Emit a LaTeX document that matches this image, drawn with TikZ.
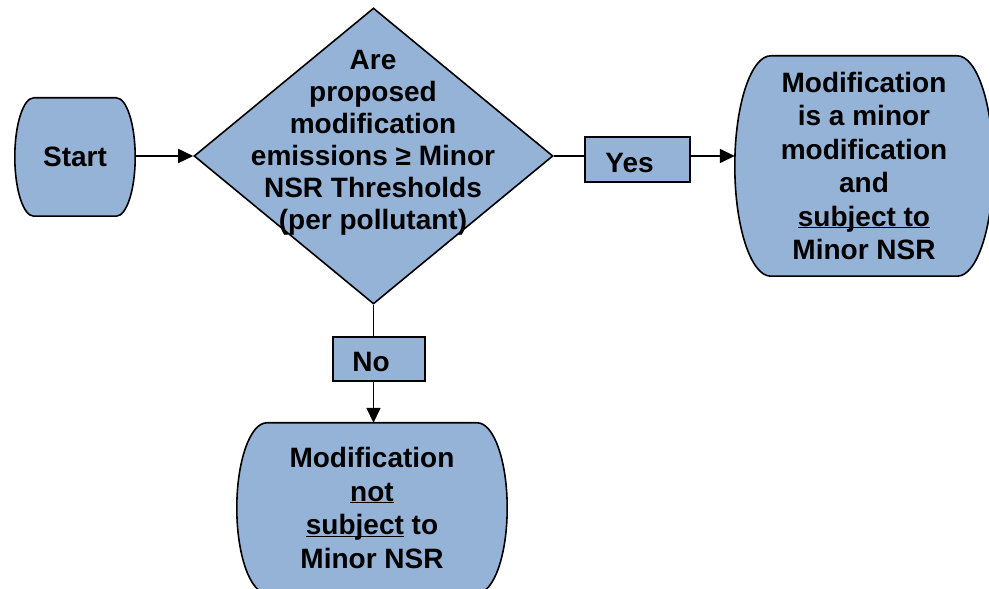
\documentclass[tikz,border=0pt]{standalone}
\usepackage{fontspec}
\setmainfont{Liberation Sans}
\usetikzlibrary{shapes,arrows.meta,calc,positioning,backgrounds}
\definecolor{boxblue}{HTML}{95B3D7}
\tikzstyle{arrow} = [line width=1.6pt, -{Triangle[length=15pt,width=14pt]}]
\tikzstyle{line} = [line width=1.6pt]
\tikzstyle{term} = [draw=none, inner sep=0pt, align=center, font=\bfseries\fontsize{28}{33.5}\selectfont]
\tikzstyle{tag} = [draw, fill=boxblue, line width=1.6pt, inner sep=0pt, text height=26pt, text depth=0pt, font=\bfseries\fontsize{28}{33.5}\selectfont]
\tikzstyle{decision} = [diamond, draw, fill=boxblue, line width=1.6pt, inner sep=0pt]
\newcommand{\ulin}[1]{\underline{\smash{#1}}}
% outline of a terminal box, sides are half ellipses
\newcommand{\termline}[2]{%
  \draw[line width=1.6pt, fill=boxblue] let \p1=(#1.north west), \p2=(#1.south east), \n1={(\y1-\y2)/2} in
    (\x1+#2pt,\y1) arc[start angle=90, end angle=270, x radius=#2pt, y radius=\n1]
    -- (\x2-#2pt,\y2) arc[start angle=-90, end angle=90, x radius=#2pt, y radius=\n1] -- cycle;}
\begin{document}
\begin{tikzpicture}[x=1pt,y=1pt]
\useasboundingbox (0,0) rectangle (989,589);

\node[term, minimum width=120pt, minimum height=118pt] (start) at (75,432) {Start};
\node[decision, minimum width=359pt, minimum height=296pt] (dec) at (373.5,433) {};
\node[align=center, font=\bfseries\fontsize{28}{32}\selectfont] (ques) at (373,446)
  {Are\\proposed\\modification\\emissions ≥ Minor\\NSR Thresholds\\(per pollutant)};
\node[tag, minimum width=105pt, minimum height=45pt] (yes) at (637.5,429.5) {Yes\kern16pt};
\node[tag, minimum width=92pt, minimum height=44pt] (no) at (379,230) {No\kern16pt};
\node[term, minimum width=258pt, minimum height=220pt] (minor) at (864,423)
  {Modification\\is a minor\\modification\\and\\\ulin{subject to}\\Minor NSR};
\node[term, minimum width=270pt, minimum height=170pt] (notsub) at (372,81)
  {Modification\\\ulin{not}\\\ulin{subject} to\\Minor NSR};

\begin{scope}[on background layer]
\termline{start}{19}
\termline{minor}{36}
\termline{notsub}{30}
\end{scope}

\draw[arrow] (start.east |- dec.west) -- (dec.west);
\draw[line] (dec.east) -- (dec.east -| yes.west);
\draw[arrow] (dec.east -| yes.east) -- (dec.east -| minor.west);
\draw[line] (dec.south) -- (dec.south |- no.north);
\draw[arrow] (dec.south |- no.south) -- (dec.south |- notsub.north);
\end{tikzpicture}
\end{document}
